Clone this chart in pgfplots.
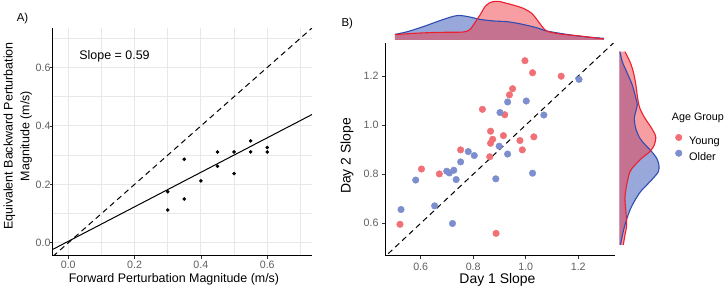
\documentclass[border=0pt]{standalone}
\usepackage{pgfplots}
\pgfplotsset{compat=1.18}
\usepackage{fontspec}
\setmainfont{Liberation Sans}

\definecolor{youngpt}{RGB}{240,112,118}
\definecolor{olderpt}{RGB}{124,142,206}
\definecolor{youngln}{RGB}{236,32,44}
\definecolor{olderln}{RGB}{46,76,180}
\definecolor{youngfill}{RGB}{240,62,72}
\definecolor{olderfill}{RGB}{52,82,182}
\definecolor{gridc}{RGB}{232,232,232}
\definecolor{tickc}{RGB}{95,95,95}

\pgfplotsset{
  panel/.style={
    scale only axis, anchor=south west,
    axis x line*=bottom, axis y line*=left,
    axis line style={black, line width=1bp, -},
    tick align=outside, major tick length=3bp,
    tick style={black!80, line width=0.8bp},
    minor tick length=0pt,
    tick label style={font=\fontsize{10.7}{12}\selectfont, text=tickc},
    /pgf/number format/assume math mode=true,
    /pgf/number format/fixed,
    /pgf/number format/fixed zerofill,
    /pgf/number format/precision=1,
  },
  marginal/.style={scale only axis, anchor=south west, hide axis, clip=false},
}

\begin{document}
\begin{tikzpicture}[x=1bp, y=1bp]
\path[use as bounding box] (0bp,0bp) rectangle (727bp,289bp);

% ---------------- Panel A ----------------
\begin{axis}[panel,
  at={(53bp,33bp)}, width=259bp, height=228bp,
  xmin=-0.046, xmax=0.735, ymin=-0.045, ymax=0.735,
  xtick={0,0.2,0.4,0.6}, ytick={0,0.2,0.4,0.6},
  minor xtick={0.1,0.3,0.5,0.7}, minor ytick={0.1,0.3,0.5,0.7},
  grid=both,
  major grid style={gridc, line width=0.9bp},
  minor grid style={gridc, line width=0.5bp},
  xticklabel style={yshift=1.5bp},
  yticklabel style={xshift=4bp},
  xlabel={Forward Perturbation Magnitude (m/s)},
  ylabel={Equivalent Backward Perturbation\\Magnitude (m/s)},
  label style={font=\fontsize{12.5}{16.7}\selectfont},
  xlabel style={at={(axis description cs:0.467,-0.102)}, anchor=center},
  ylabel style={at={(axis description cs:-0.136,0.526)}, anchor=center, align=center},
]
% identity line
\addplot[black, line width=1bp, dash pattern=on 5.5bp off 4bp]
  coordinates {(-0.046,-0.046) (0.735,0.735)};
% fitted line, slope 0.59
\addplot[black, line width=1bp]
  coordinates {(-0.046,-0.022) (0.735,0.439)};
\addplot[only marks, mark=*, mark size=1.6bp, black] table {
x     y
0.30  0.175
0.30  0.112
0.35  0.286
0.35  0.150
0.40  0.212
0.45  0.311
0.45  0.262
0.50  0.311
0.50  0.237
0.55  0.349
0.55  0.311
0.60  0.326
0.60  0.311
};
\node[anchor=west, font=\fontsize{12.5}{15}\selectfont] at (axis cs:0.023,0.639) {Slope = 0.59};
\end{axis}

% ---------------- Panel B ----------------
\begin{axis}[panel,
  at={(385bp,33.3bp)}, width=230bp, height=212.4bp,
  xmin=0.464, xmax=1.34, ymin=0.468, ymax=1.333,
  xtick={0.6,0.8,1.0,1.2}, ytick={0.6,0.8,1.0,1.2},
  xticklabel style={yshift=-1bp},
  xlabel={Day 1 Slope}, ylabel={Day 2 Slope},
  label style={font=\fontsize{14}{16}\selectfont},
  xlabel style={at={(axis description cs:0.489,-0.112)}, anchor=center},
  ylabel style={at={(axis description cs:-0.165,0.47)}, anchor=center},
  legend style={at={(axis description cs:1.262,0.573)}, anchor=north west,
    draw=none, fill=none, font=\fontsize{11}{13}\selectfont,
    row sep=1.5bp, inner sep=0pt,
    /tikz/every odd column/.append style={column sep=5bp}},
  legend cell align=left,
  legend image code/.code={\draw[mark size=3.3bp,#1] plot coordinates {(0,0)};},
]
\addplot[black, line width=1bp, dash pattern=on 5.5bp off 4bp, forget plot]
  coordinates {(0.45,0.45) (1.35,1.35)};
\addplot[only marks, mark=*, mark size=3.3bp, youngpt, draw=none] table {
x      y
0.521  0.596
0.603  0.821
0.671  0.801
0.752  0.899
0.835  1.064
0.863  0.871
0.866  0.975
0.866  0.926
0.874  0.942
0.887  0.559
0.915  0.957
0.920  1.042
0.938  1.123
0.950  1.148
0.978  0.937
0.987  0.899
0.997  1.262
1.026  1.213
1.031  0.952
1.135  1.199
};
\addlegendentry{Young}
\addplot[only marks, mark=*, mark size=3.3bp, olderpt, draw=none] table {
x      y
0.525  0.656
0.581  0.776
0.653  0.671
0.699  0.812
0.709  0.805
0.726  0.816
0.721  0.599
0.735  0.778
0.752  0.850
0.781  0.892
0.804  0.876
0.886  0.781
0.899  0.914
0.902  1.051
0.931  1.094
0.931  0.882
1.002  1.098
1.026  0.804
1.069  1.041
1.203  1.186
};
\addlegendentry{Older}
\end{axis}

% top marginal density of Day 1 slope
\begin{axis}[marginal,
  at={(385bp,249bp)}, width=230bp, height=40bp,
  xmin=0.464, xmax=1.34, ymin=0, ymax=3.2]
\addplot[draw=none, fill=olderfill, fill opacity=0.5, smooth] coordinates {
(0.502,0.45) (0.55,0.67) (0.610,1.07) (0.68,1.6) (0.737,1.95) (0.78,1.87)
(0.826,1.65) (0.88,1.52) (0.927,1.47) (0.97,1.33) (1.016,1.12) (1.05,0.93)
(1.080,0.72) (1.156,0.45) (1.22,0.27) (1.298,0.13)} \closedcycle;
\addplot[draw=none, fill=youngfill, fill opacity=0.5, smooth] coordinates {
(0.502,0.43) (0.572,0.53) (0.635,0.59) (0.70,0.62) (0.762,0.64) (0.788,0.85)
(0.813,1.6) (0.826,2.0) (0.845,2.67) (0.864,2.99) (0.883,3.09) (0.902,3.07)
(0.927,2.93) (0.952,2.8) (0.991,2.53) (1.023,2.13) (1.042,1.65) (1.061,1.12)
(1.080,0.72) (1.130,0.48) (1.206,0.32) (1.298,0.08)} \closedcycle;
\addplot[olderln, line width=1.1bp, smooth] coordinates {
(0.502,0.45) (0.55,0.67) (0.610,1.07) (0.68,1.6) (0.737,1.95) (0.78,1.87)
(0.826,1.65) (0.88,1.52) (0.927,1.47) (0.97,1.33) (1.016,1.12) (1.05,0.93)
(1.080,0.72) (1.156,0.45) (1.22,0.27) (1.298,0.13)};
\addplot[youngln, line width=1.1bp, smooth] coordinates {
(0.502,0.43) (0.572,0.53) (0.635,0.59) (0.70,0.62) (0.762,0.64) (0.788,0.85)
(0.813,1.6) (0.826,2.0) (0.845,2.67) (0.864,2.99) (0.883,3.09) (0.902,3.07)
(0.927,2.93) (0.952,2.8) (0.991,2.53) (1.023,2.13) (1.042,1.65) (1.061,1.12)
(1.080,0.72) (1.130,0.48) (1.206,0.32) (1.298,0.08)};
\end{axis}

% right marginal density of Day 2 slope
\begin{axis}[marginal,
  at={(619.3bp,33.3bp)}, width=45bp, height=212.4bp,
  xmin=0, xmax=3.6, ymin=0.468, ymax=1.333]
\addplot[draw=none, fill=olderfill, fill opacity=0.5, smooth] coordinates {
(0.05,1.299) (0.24,1.258) (0.59,1.217) (1.04,1.163) (1.33,1.109) (1.44,1.082)
(1.31,1.054) (1.2,1.028) (1.31,0.987) (1.65,0.946) (2.08,0.919) (2.59,0.892)
(2.99,0.865) (3.17,0.837) (3.12,0.810) (2.7,0.783) (2.2,0.756) (1.7,0.729)
(1.35,0.702) (1.05,0.675) (0.8,0.647) (0.45,0.593) (0.25,0.552) (0.1,0.512)}
  -- (axis cs:0,0.512) -- (axis cs:0,1.299) -- cycle;
\addplot[draw=none, fill=youngfill, fill opacity=0.5, smooth] coordinates {
(0.45,1.299) (0.85,1.258) (1.12,1.217) (1.33,1.163) (1.47,1.109) (1.65,1.068)
(2.05,1.028) (2.59,0.987) (2.91,0.953) (2.8,0.919) (2.45,0.892) (1.79,0.865)
(1.25,0.837) (0.85,0.810) (0.59,0.756) (0.45,0.702) (0.53,0.647) (0.59,0.593)
(0.45,0.552) (0.32,0.512)}
  -- (axis cs:0,0.512) -- (axis cs:0,1.299) -- cycle;
\addplot[olderln, line width=1.1bp, smooth] coordinates {
(0.05,1.299) (0.24,1.258) (0.59,1.217) (1.04,1.163) (1.33,1.109) (1.44,1.082)
(1.31,1.054) (1.2,1.028) (1.31,0.987) (1.65,0.946) (2.08,0.919) (2.59,0.892)
(2.99,0.865) (3.17,0.837) (3.12,0.810) (2.7,0.783) (2.2,0.756) (1.7,0.729)
(1.35,0.702) (1.05,0.675) (0.8,0.647) (0.45,0.593) (0.25,0.552) (0.1,0.512)};
\addplot[youngln, line width=1.1bp, smooth] coordinates {
(0.45,1.299) (0.85,1.258) (1.12,1.217) (1.33,1.163) (1.47,1.109) (1.65,1.068)
(2.05,1.028) (2.59,0.987) (2.91,0.953) (2.8,0.919) (2.45,0.892) (1.79,0.865)
(1.25,0.837) (0.85,0.810) (0.59,0.756) (0.45,0.702) (0.53,0.647) (0.59,0.593)
(0.45,0.552) (0.32,0.512)};
\end{axis}

% panel tags and legend title
\node[font=\fontsize{11.5}{13}\selectfont] at (22.5bp,270bp) {A)};
\node[font=\fontsize{11.5}{13}\selectfont] at (347.3bp,265.3bp) {B)};
\node[anchor=west, inner sep=0pt, font=\fontsize{10.8}{13}\selectfont] at (671.7bp,171bp) {Age Group};
\end{tikzpicture}
\end{document}
